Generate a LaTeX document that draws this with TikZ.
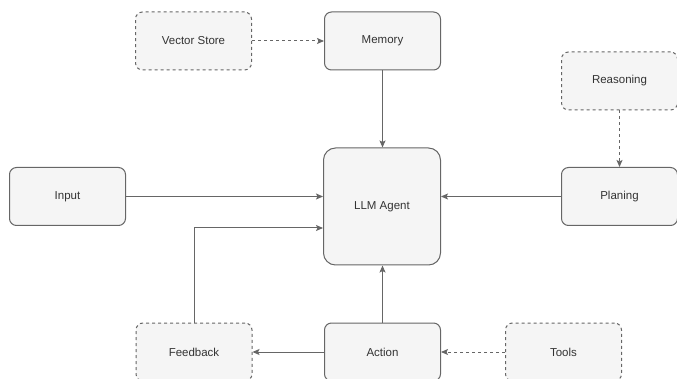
\documentclass[tikz,border=0pt]{standalone}
\usepackage{fontspec}
\setmainfont{Liberation Sans}
\usetikzlibrary{arrows.meta}
\definecolor{boxfill}{HTML}{F5F5F5}
\definecolor{boxline}{HTML}{666666}
\definecolor{boxtext}{HTML}{333333}

\begin{document}
\begin{tikzpicture}[x=1pt,y=-1pt,
    box/.style={draw=boxline,fill=boxfill,text=boxtext,line width=1pt,rounded corners=7pt,
      minimum width=116pt,minimum height=58pt,inner sep=0pt,font=\fontsize{11.5}{14}\selectfont},
    ghost/.style={box,dash pattern=on 3pt off 3pt},
    link/.style={draw=boxline,line width=1pt,-{Stealth[length=7pt,width=6pt,inset=1.5pt]}},
    hint/.style={link,dash pattern=on 3pt off 3pt}]
  \useasboundingbox (0,0) rectangle (677,379);
  \node[ghost] (vec) at (193.5,41) {Vector Store};
  \node[box] (mem) at (382.5,41) {Memory};
  \node[box,minimum width=117pt,minimum height=117pt,rounded corners=12pt] (llm) at (382,206.5) {LLM Agent};
  \node[box] (in) at (67.5,196.5) {Input};
  \node[ghost] (reas) at (619.5,81) {Reasoning};
  \node[box] (plan) at (619.5,196.5) {Planing};
  \node[ghost] (fb) at (194,352) {Feedback};
  \node[box] (act) at (382.5,352) {Action};
  \node[ghost] (tools) at (563.5,352) {Tools};
  \draw[hint] (vec) -- (mem);
  \draw[link] (mem) -- (mem |- llm.north);
  \draw[link] (in) -- (in -| llm.west);
  \draw[hint] (reas) -- (plan);
  \draw[link] (plan) -- (plan -| llm.east);
  \draw[link] (act) -- (act |- llm.south);
  \draw[link] (act) -- (fb);
  \draw[hint] (tools) -- (act);
  \draw[link] (fb.north) |- ([yshift=-21.5pt]llm.west);
\end{tikzpicture}
\end{document}
